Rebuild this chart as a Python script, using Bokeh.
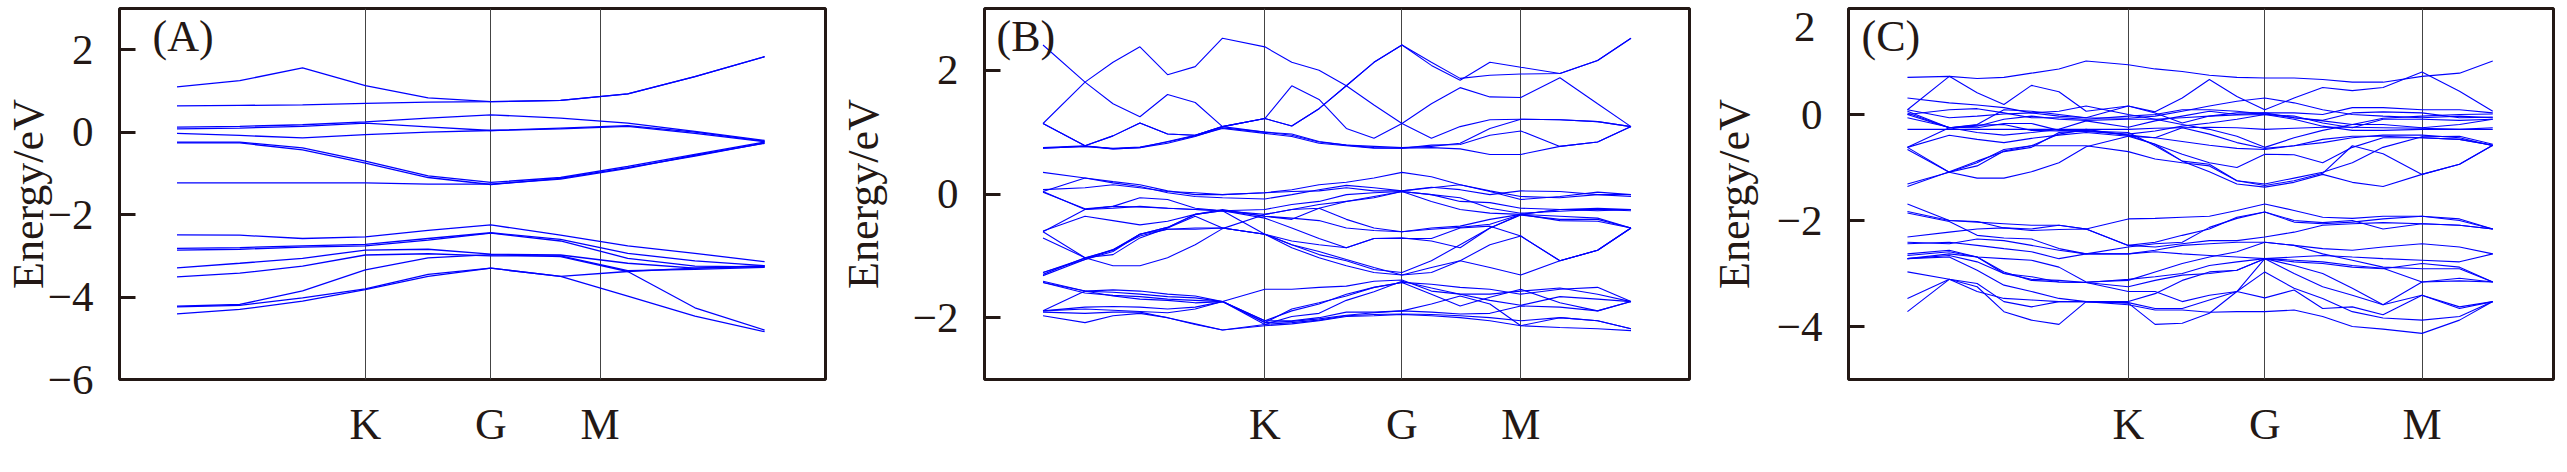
import math
from bokeh.plotting import figure
from bokeh.layouts import row
from bokeh.models import (FixedTicker, CustomJSTickFormatter, Label,
                          LinearAxis, Range1d)
from bokeh.embed import file_html
from bokeh.resources import INLINE

INK = "#231815"
BLUE = "#0000ff"
FONT = "Liberation Serif"

k_labels = ["K", "G", "M"]

# ---------------- Panel A ----------------
kA = [0, 1, 2, 3, 4, 5, 6.11, 7.18, 8.25, 9.36]
kA_sym = [3.0, 5.0, 6.74]
bandsA = [
    [1.10, 1.25, 1.56, 1.13, 0.83, 0.74, 0.77, 0.93, 1.35, 1.83],
    [0.64, 0.65, 0.66, 0.70, 0.73, 0.74, 0.77, 0.93, 1.35, 1.83],
    [0.12, 0.14, 0.18, 0.25, 0.34, 0.42, 0.34, 0.22, 0.02, -0.20],
    [0.08, 0.10, 0.14, 0.22, 0.13, 0.04, 0.10, 0.16, 0.00, -0.22],
    [-0.03, -0.08, -0.14, -0.06, 0.00, 0.04, 0.08, 0.14, -0.03, -0.23],
    [-0.24, -0.24, -0.38, -0.70, -1.06, -1.22, -1.10, -0.83, -0.54, -0.24],
    [-0.26, -0.26, -0.43, -0.75, -1.10, -1.27, -1.12, -0.86, -0.58, -0.26],
    [-1.23, -1.23, -1.23, -1.23, -1.26, -1.26, -1.14, -0.88, -0.56, -0.27],
    [-2.49, -2.50, -2.58, -2.54, -2.38, -2.25, -2.50, -2.76, -2.94, -3.14],
    [-2.82, -2.80, -2.76, -2.72, -2.58, -2.44, -2.60, -2.94, -3.12, -3.24],
    [-2.86, -2.84, -2.79, -2.76, -2.62, -2.45, -2.64, -3.06, -3.25, -3.27],
    [-3.29, -3.18, -3.06, -2.86, -2.84, -2.96, -2.98, -3.18, -3.30, -3.26],
    [-3.51, -3.42, -3.25, -2.98, -2.95, -3.00, -3.00, -3.36, -3.33, -3.28],
    [-4.22, -4.18, -3.85, -3.34, -3.05, -2.97, -3.02, -3.38, -4.26, -4.80],
    [-4.24, -4.20, -4.02, -3.80, -3.45, -3.30, -3.50, -3.98, -4.46, -4.84],
    [-4.41, -4.30, -4.10, -3.82, -3.50, -3.30, -3.50, -3.38, -3.30, -3.24],
]
yticksA = [-6, -4, -2, 0, 2]

# ---------------- Panels B and C share the k-grid ----------------
kBC = [0, 0.117, 0.195, 0.270, 0.347, 0.424, 0.500, 0.618, 0.693, 0.769,
       0.845, 0.922, 1.0, 1.082, 1.162, 1.245, 1.331, 1.44, 1.545, 1.638]
kB_sym = [0.618, 1.0, 1.331]
kC_sym = [0.618, 1.0, 1.44]

bandsB = [
    [2.41, 1.81, 1.46, 1.25, 1.61, 1.48, 1.09, 1.00, 0.97, 0.85, 0.79, 0.77, 0.75, 0.77, 0.82, 1.06, 1.21, 1.20, 1.17, 1.09],
    [1.14, 1.81, 2.13, 2.38, 1.93, 2.06, 2.52, 2.38, 2.13, 2.00, 1.75, 1.44, 1.14, 0.90, 1.09, 1.20, 1.21, 1.20, 1.17, 1.09],
    [1.14, 0.78, 0.94, 1.15, 0.97, 0.95, 1.09, 1.22, 1.10, 1.38, 1.75, 2.13, 2.41, 2.13, 1.87, 1.92, 1.94, 1.95, 2.16, 2.52],
    [1.14, 0.78, 0.94, 1.15, 0.97, 0.95, 1.09, 1.22, 1.10, 1.38, 1.75, 2.13, 2.41, 2.08, 1.84, 2.13, 2.05, 1.95, 2.16, 2.52],
    [0.75, 0.78, 0.73, 0.75, 0.85, 0.95, 1.09, 1.22, 1.75, 1.53, 1.06, 0.90, 1.14, 1.46, 1.72, 1.57, 1.56, 1.88, 1.46, 1.09],
    [0.74, 0.77, 0.73, 0.75, 0.82, 0.93, 1.07, 1.00, 0.95, 0.84, 0.79, 0.75, 0.74, 0.75, 0.73, 0.64, 0.64, 0.77, 0.84, 1.09],
    [0.74, 0.77, 0.74, 0.76, 0.84, 0.94, 1.06, 0.98, 0.93, 0.82, 0.78, 0.74, 0.74, 0.79, 0.80, 0.95, 1.02, 0.77, 0.84, 1.09],
    [0.35, 0.26, 0.20, 0.15, 0.05, -0.01, -0.01, 0.02, 0.07, 0.15, 0.19, 0.26, 0.35, 0.28, 0.15, 0.05, -0.04, -0.06, -0.01, -0.01],
    [0.04, 0.26, 0.18, 0.12, 0.02, -0.04, -0.06, -0.08, -0.01, 0.07, 0.14, 0.10, 0.05, 0.10, 0.15, 0.04, -0.09, -0.04, 0.03, -0.01],
    [0.07, 0.10, 0.15, 0.10, 0.04, 0.02, -0.01, 0.02, 0.04, 0.05, 0.10, 0.05, 0.05, 0.11, 0.07, -0.01, 0.05, 0.04, -0.01, -0.04],
    [0.04, -0.25, -0.23, -0.20, -0.23, -0.25, -0.27, -0.25, -0.17, -0.12, -0.01, 0.02, 0.04, -0.01, -0.12, -0.14, -0.23, -0.25, -0.27, -0.25],
    [0.03, -0.24, -0.20, -0.06, -0.09, -0.23, -0.27, -0.33, -0.25, -0.23, -0.12, -0.06, 0.04, -0.01, -0.06, -0.23, -0.31, -0.28, -0.25, -0.27],
    [-0.60, -0.36, -0.43, -0.50, -0.44, -0.33, -0.25, -0.36, -0.41, -0.23, -0.41, -0.55, -0.61, -0.55, -0.52, -0.41, -0.33, -0.36, -0.39, -0.55],
    [-0.61, -0.25, -0.20, -0.21, -0.23, -0.25, -0.27, -0.36, -0.39, -0.43, -0.55, -0.59, -0.61, -0.57, -0.54, -0.49, -0.33, -0.43, -0.44, -0.55],
    [-0.61, -1.03, -1.16, -1.16, -1.03, -0.82, -0.56, -0.33, -0.25, -0.17, -0.12, -0.04, 0.04, -0.12, -0.25, -0.31, -0.33, -0.25, -0.23, -0.25],
    [-0.71, -1.03, -0.98, -0.71, -0.55, -0.36, -0.55, -0.65, -0.82, -0.93, -1.06, -1.19, -1.31, -1.19, -1.08, -0.82, -0.68, -1.08, -0.91, -0.55],
    [-1.27, -1.04, -0.90, -0.68, -0.57, -0.57, -0.55, -0.65, -0.82, -0.98, -1.08, -1.22, -1.27, -1.08, -0.82, -0.55, -0.34, -0.41, -0.41, -0.55],
    [-1.32, -1.06, -0.93, -0.65, -0.54, -0.33, -0.27, -0.39, -0.55, -0.72, -0.87, -0.72, -0.71, -0.76, -0.87, -0.55, -0.33, -0.25, -0.25, -0.25],
    [-1.30, -1.03, -0.91, -0.65, -0.54, -0.33, -0.27, -0.65, -0.76, -0.82, -0.87, -0.72, -0.72, -0.72, -0.55, -0.52, -0.68, -1.08, -0.91, -0.55],
    [-1.27, -1.06, -0.90, -0.65, -0.57, -0.55, -0.55, -0.65, -0.87, -1.03, -1.16, -1.27, -1.31, -1.27, -1.08, -1.19, -1.31, -1.08, -0.91, -0.55],
    [-1.41, -1.57, -1.59, -1.62, -1.66, -1.68, -1.74, -1.54, -1.54, -1.51, -1.49, -1.41, -1.39, -1.57, -1.62, -1.62, -1.57, -1.52, -1.62, -1.74],
    [-1.43, -1.57, -1.65, -1.70, -1.72, -1.76, -1.74, -2.05, -2.05, -2.00, -1.91, -1.91, -1.89, -1.91, -1.94, -1.93, -1.81, -1.83, -1.89, -1.74],
    [-1.89, -1.57, -1.55, -1.57, -1.62, -1.65, -1.74, -2.05, -1.89, -1.78, -1.62, -1.51, -1.43, -1.46, -1.51, -1.54, -1.62, -1.54, -1.51, -1.74],
    [-1.89, -1.83, -1.82, -1.83, -1.86, -1.83, -1.74, -2.08, -1.86, -1.76, -1.65, -1.51, -1.43, -1.62, -1.81, -1.67, -1.54, -1.76, -1.89, -1.74],
    [-1.91, -1.93, -1.91, -1.91, -2.00, -2.11, -2.20, -2.13, -2.10, -2.05, -1.98, -1.97, -1.95, -1.97, -2.00, -2.05, -2.13, -2.16, -2.18, -2.21],
    [-1.97, -2.08, -1.97, -1.93, -2.00, -2.10, -2.20, -2.11, -2.08, -2.04, -1.97, -1.95, -1.94, -1.95, -1.97, -2.00, -2.05, -2.00, -2.05, -2.18],
    [-1.43, -1.60, -1.64, -1.66, -1.70, -1.72, -1.74, -2.08, -2.06, -2.02, -1.96, -1.92, -1.89, -1.78, -1.65, -1.78, -2.13, -2.00, -2.05, -2.18],
    [-1.89, -1.86, -1.88, -1.90, -1.92, -1.86, -1.74, -2.11, -1.98, -1.93, -1.72, -1.58, -1.41, -1.52, -1.62, -1.72, -1.80, -1.66, -1.70, -1.74],
]
yticksB = [-2, 0, 2]

bandsC = [
    [0.70, 0.72, 0.68, 0.70, 0.78, 0.86, 1.01, 0.94, 0.86, 0.81, 0.74, 0.70, 0.69, 0.69, 0.66, 0.61, 0.61, 0.72, 0.78, 1.01],
    [0.09, 0.72, 0.41, 0.19, 0.55, 0.43, 0.06, 0.16, 0.05, 0.31, 0.66, 0.34, 0.09, 0.31, 0.51, 0.45, 0.51, 0.80, 0.44, 0.06],
    [0.31, 0.22, 0.18, 0.13, 0.03, -0.03, -0.06, -0.07, -0.03, 0.06, 0.16, 0.25, 0.31, 0.22, 0.09, 0.00, -0.03, -0.06, -0.03, -0.06],
    [0.00, -0.25, -0.19, 0.09, 0.06, 0.00, -0.06, 0.16, 0.03, -0.16, -0.03, 0.03, 0.03, 0.03, 0.00, 0.13, 0.13, 0.09, 0.09, 0.03],
    [0.00, 0.09, 0.11, 0.03, -0.06, -0.06, -0.09, -0.03, 0.00, 0.09, 0.09, 0.06, 0.01, -0.06, -0.11, 0.03, 0.05, 0.03, -0.06, -0.05],
    [0.06, -0.25, -0.22, -0.09, -0.03, -0.09, -0.11, -0.09, -0.09, -0.06, -0.03, -0.01, 0.00, -0.03, -0.16, -0.25, -0.09, -0.09, -0.11, -0.09],
    [-0.28, -0.28, -0.28, -0.28, -0.28, -0.28, -0.28, -0.28, -0.26, -0.25, -0.24, -0.25, -0.28, -0.26, -0.24, -0.24, -0.25, -0.26, -0.28, -0.28],
    [-0.06, -0.24, -0.25, -0.17, -0.17, -0.30, -0.32, -0.37, -0.31, -0.22, -0.16, -0.09, 0.00, -0.09, -0.22, -0.30, -0.30, -0.28, -0.28, -0.25],
    [-0.62, -0.39, -0.47, -0.53, -0.45, -0.39, -0.34, -0.41, -0.44, -0.51, -0.58, -0.64, -0.66, -0.59, -0.47, -0.41, -0.41, -0.44, -0.47, -0.58],
    [-0.62, -0.25, -0.20, -0.19, -0.30, -0.31, -0.30, -0.39, -0.44, -0.25, -0.37, -0.53, -0.64, -0.59, -0.53, -0.44, -0.39, -0.39, -0.44, -0.59],
    [-0.66, -1.09, -1.20, -1.20, -1.08, -0.91, -0.61, -0.41, -0.56, -0.75, -0.91, -1.00, -0.75, -0.76, -0.91, -0.62, -0.44, -0.44, -0.47, -0.58],
    [-0.62, -1.09, -0.97, -0.69, -0.59, -0.37, -0.28, -0.39, -0.56, -0.88, -0.94, -1.25, -1.31, -1.20, -1.09, -0.91, -0.62, -0.42, -0.41, -0.56],
    [-1.31, -1.09, -0.91, -0.66, -0.59, -0.59, -0.59, -0.70, -0.84, -0.91, -0.97, -1.25, -1.34, -1.25, -1.11, -0.59, -0.74, -1.13, -0.94, -0.58],
    [-1.36, -1.08, -0.88, -0.70, -0.62, -0.34, -0.31, -0.34, -0.59, -0.88, -1.08, -1.31, -1.37, -1.28, -1.13, -1.28, -1.36, -1.13, -0.94, -0.58],
    [0.09, -0.06, -0.03, 0.01, 0.03, 0.06, 0.16, 0.00, -0.09, -0.19, -0.28, -0.41, -0.62, -0.44, -0.30, -0.19, -0.07, -0.03, 0.00, 0.01],
    [0.03, -0.25, -0.34, -0.39, -0.34, -0.28, -0.12, -0.24, -0.12, -0.03, 0.06, 0.00, 0.03, -0.06, -0.12, -0.19, -0.19, -0.25, -0.19, -0.09],
    [-1.69, -2.00, -2.03, -2.06, -2.09, -2.09, -2.16, -2.47, -2.41, -2.28, -2.16, -1.94, -1.84, -2.03, -2.06, -2.03, -1.97, -1.92, -1.97, -2.16],
    [-1.83, -2.00, -2.02, -2.14, -2.16, -2.09, -2.16, -1.97, -1.96, -1.94, -1.92, -1.81, -1.69, -1.81, -1.94, -1.96, -1.92, -1.92, -2.00, -2.16],
    [-1.86, -2.02, -2.28, -2.33, -2.35, -2.53, -2.63, -2.50, -2.44, -2.41, -2.13, -1.96, -1.84, -2.00, -2.04, -2.00, -2.16, -2.06, -2.09, -2.16],
    [-2.31, -2.22, -2.16, -2.14, -2.19, -2.17, -2.16, -2.47, -2.50, -2.44, -2.38, -2.38, -2.31, -2.22, -2.09, -2.06, -2.04, -2.06, -2.09, -2.16],
    [-2.41, -2.44, -2.35, -2.38, -2.47, -2.56, -2.63, -2.63, -2.56, -2.47, -2.44, -2.41, -2.41, -2.47, -2.53, -2.56, -2.50, -2.44, -2.50, -2.63],
    [-2.44, -2.41, -2.47, -2.53, -2.59, -2.72, -2.63, -2.63, -2.59, -2.63, -2.66, -2.69, -2.72, -2.69, -2.66, -2.69, -2.72, -2.75, -2.78, -2.63],
    [-2.66, -2.59, -2.69, -2.72, -2.75, -2.88, -3.16, -3.13, -2.97, -2.81, -2.69, -2.59, -2.41, -2.47, -2.63, -2.75, -2.88, -2.91, -2.91, -3.16],
    [-2.72, -2.63, -2.69, -3.00, -3.06, -3.16, -3.17, -3.25, -3.13, -3.03, -3.00, -2.94, -2.72, -2.85, -3.00, -3.28, -3.59, -3.16, -3.09, -3.16],
    [-2.72, -2.69, -2.94, -3.22, -3.34, -3.47, -3.53, -3.53, -3.38, -3.13, -2.97, -2.94, -2.72, -3.00, -3.25, -3.41, -3.59, -3.41, -3.63, -3.53],
    [-2.97, -3.11, -3.19, -3.53, -3.63, -3.53, -3.53, -3.55, -3.66, -3.66, -3.50, -3.34, -2.97, -3.28, -3.47, -3.72, -3.84, -3.88, -3.81, -3.53],
    [-3.47, -3.11, -3.25, -3.72, -3.88, -3.96, -3.53, -3.56, -3.96, -3.94, -3.75, -3.34, -3.46, -3.31, -3.66, -3.63, -3.78, -3.41, -3.66, -3.53],
    [-3.72, -3.11, -3.34, -3.47, -3.50, -3.53, -3.53, -3.59, -3.69, -3.69, -3.73, -3.72, -3.72, -3.69, -3.81, -4.00, -4.05, -4.13, -3.88, -3.53],
    [-2.72, -2.66, -2.78, -3.00, -3.11, -3.13, -3.17, -3.11, -3.06, -3.00, -2.85, -2.78, -2.72, -2.78, -2.81, -2.88, -2.91, -2.81, -2.88, -3.16],
    [-2.63, -2.56, -2.69, -2.97, -3.13, -3.16, -3.17, -3.34, -3.34, -3.53, -3.41, -3.34, -2.72, -2.75, -2.78, -2.85, -2.90, -3.16, -3.14, -3.16],
]
yticksC = [-4, -2, 0]
ytop_C = [2]

panel_titles = ["(A)", "(B)", "(C)"]
y_title = "Energy/eV"

minus_fmt = "return tick < 0 ? '\\u2212' + Math.abs(tick) : String(tick);"


def style_left_axis(ax):
    ax.formatter = CustomJSTickFormatter(code=minus_fmt)
    ax.axis_line_color = None
    ax.minor_tick_line_color = None
    ax.major_label_text_font = FONT
    ax.major_label_text_font_size = "43px"
    ax.major_label_text_color = INK


def make_panel(k, bands, sym, yticks, xr, yr, title, title_dx, border_left,
               border_right, ylab_standoff, lw):
    p = figure(width=border_left + 710 + border_right, height=456,
               x_range=xr, y_range=yr,
               output_backend="svg", toolbar_location=None,
               min_border_left=border_left, min_border_right=border_right,
               min_border_top=8, min_border_bottom=77)
    p.background_fill_color = "white"
    p.border_fill_color = "white"
    p.outline_line_color = INK
    p.outline_line_width = 3
    p.outline_line_alpha = 1.0

    p.multi_line(xs=[k] * len(bands), ys=bands, line_color=BLUE,
                 line_width=lw)

    # x axis: symmetry labels and vertical guide lines
    p.xaxis.ticker = FixedTicker(ticks=sym)
    p.xaxis.major_label_overrides = {s: lab for s, lab in zip(sym, k_labels)}
    p.xaxis.axis_line_color = None
    p.xaxis.major_tick_line_color = None
    p.xaxis.minor_tick_line_color = None
    p.xaxis.major_label_text_font = FONT
    p.xaxis.major_label_text_font_size = "44px"
    p.xaxis.major_label_text_color = INK
    p.xaxis.major_label_standoff = 14
    p.xgrid.ticker = FixedTicker(ticks=sym)
    p.xgrid.grid_line_color = "#444444"
    p.xgrid.grid_line_width = 1
    p.ygrid.visible = False

    # y axis
    ax = p.yaxis[0]
    style_left_axis(ax)
    ax.ticker = FixedTicker(ticks=yticks)
    ax.major_tick_in = 16
    ax.major_tick_out = 0
    ax.major_tick_line_width = 3
    ax.major_tick_line_color = INK
    ax.major_label_standoff = 26
    ax.axis_label = y_title
    ax.axis_label_text_font = FONT
    ax.axis_label_text_font_size = "44px"
    ax.axis_label_text_font_style = "normal"
    ax.axis_label_text_color = INK
    ax.axis_label_standoff = ylab_standoff

    p.add_layout(Label(x=xr[0], y=yr[1], x_offset=title_dx, y_offset=-3,
                       text=title, text_font=FONT, text_font_size="44px",
                       text_color=INK, text_align="left",
                       text_baseline="top"))
    return p


pA = make_panel(kA, bandsA, kA_sym, yticksA, (-0.916, 10.33), (-6, 3),
                panel_titles[0], 33, 115, 10, -8, 1.3)
pB = make_panel(kBC, bandsB, kB_sym, yticksB, (-0.163, 1.801), (-3, 3),
                panel_titles[1], 12, 144, 17, 22, 1.1)
pC = make_panel(kBC, bandsC, kC_sym, yticksC, (-0.165, 1.808), (-5, 2),
                panel_titles[2], 13, 137, 4, 15, 1.1)

# panel C: its top tick label "2" sits a little below the frame's top edge,
# drawn by a second (tickless) left axis on a slightly shifted range
pC.extra_y_ranges = {"toplabel": Range1d(-5 + 0.358, 2 + 0.358)}
ax2 = LinearAxis(y_range_name="toplabel", ticker=FixedTicker(ticks=ytop_C))
style_left_axis(ax2)
ax2.major_tick_line_color = None
ax2.major_tick_in = 0
ax2.major_tick_out = 0
ax2.major_label_standoff = -109
pC.add_layout(ax2, "left")

layout = row(pA, pB, pC)
open("out.html", "w").write(file_html(layout, INLINE))
